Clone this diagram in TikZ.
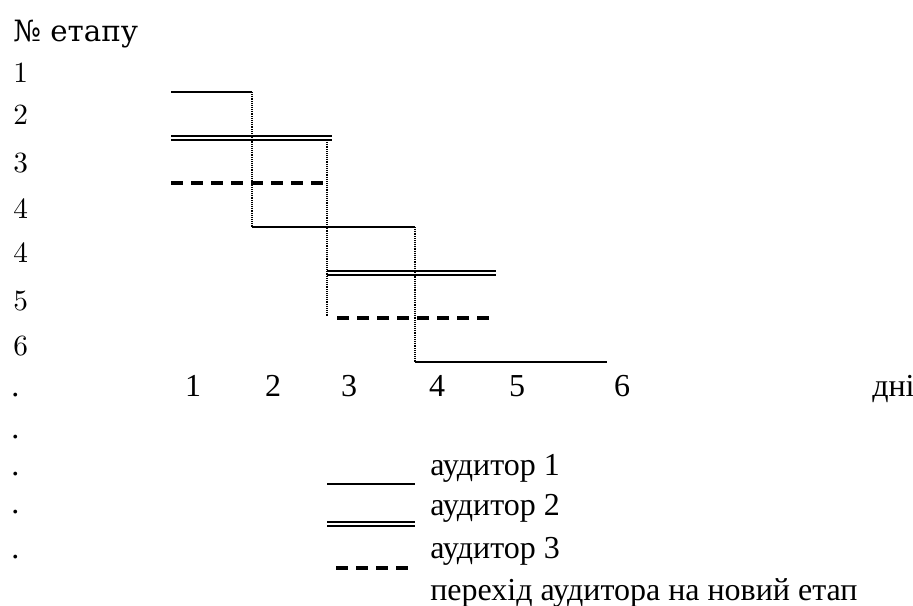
\documentclass[tikz,border=0pt]{standalone}
\usepackage{fontspec}
\newfontfamily\tnr{Liberation Serif}
\newfontfamily\dvs{DejaVu Serif}
\newfontfamily\lmten{lmroman10-regular.otf}
\usetikzlibrary{positioning}

\begin{document}
\begin{tikzpicture}[
  x=0.75pt, y=-0.75pt,
  aud1/.style={line width=1.4pt},
  aud2/.style={double, double distance=1.8pt, line width=1.1pt},
  aud3/.style={line width=2.5pt, dash pattern=on 9pt off 6pt},
  move/.style={line width=1pt, dash pattern=on 0.7pt off 0.7pt},
  stage/.style={anchor=base west, inner sep=0pt, font=\lmten\fontsize{22}{26}\selectfont},
  lbl/.style={anchor=base west, inner sep=0pt, font=\tnr\fontsize{24}{28}\selectfont},
  day/.style={anchor=base, inner sep=0pt, font=\tnr\fontsize{24}{28}\selectfont},
]
  \useasboundingbox (0,0) rectangle (913,606);

  % stage column
  \node[stage, font=\dvs\fontsize{22}{26}\selectfont] (title) at (13,42) {№ етапу};
  \node[stage] (num1) at (13,83) {1};
  \node[stage] (num2) at (13,125) {2};
  \node[stage] (num3) at (13,172) {3};
  \node[stage] (num4a) at (13,218) {4};
  \node[stage] (num4b) at (13,262) {4};
  \node[stage] (num5) at (13,310) {5};
  \node[stage] (num6) at (13,355) {6};

  \node[lbl] (dot1) at (11,396) {.};
  \node[lbl] (dot2) at (11,438) {.};
  \node[lbl] (dot3) at (11,475) {.};
  \node[lbl] (dot4) at (11,513) {.};
  \node[lbl] (dot5) at (11,558) {.};

  % day axis
  \node[day] (d1) at (193,396) {1};
  \node[day] (d2) at (273,396) {2};
  \node[day] (d3) at (349,396) {3};
  \node[day] (d4) at (437,396) {4};
  \node[day] (d5) at (517,396) {5};
  \node[day] (d6) at (622,396) {6};
  \node[lbl] (days) at (872,396) {дні};

  % auditors
  \draw[aud1] (171,92) -- (252,92);
  \draw[aud1] (252,227) -- (415,227);
  \draw[aud1] (415,362) -- (607,362);
  \draw[aud2] (171,138) -- (332,138);
  \draw[aud2] (327,273) -- (496,273);
  \draw[aud3] (171,183) -- (327,183);
  \draw[aud3] (337,318) -- (490,318);

  % moves to the next stage
  \draw[move] (252,92) -- (252,227);
  \draw[move] (327,140) -- (327,317);
  \draw[move] (415,227) -- (415,362);

  % legend
  \draw[aud1] (327,484) -- (415,484);
  \draw[aud2] (327,524) -- (415,524);
  \draw[aud3] (336,568) -- (408,568);
  \node[lbl] (leg1) at (430,475) {аудитор 1};
  \node[lbl] (leg2) at (430,515) {аудитор 2};
  \node[lbl] (leg3) at (430,558) {аудитор 3};
  \node[lbl] (leg4) at (430,600) {перехід аудитора на новий етап};
\end{tikzpicture}
\end{document}
